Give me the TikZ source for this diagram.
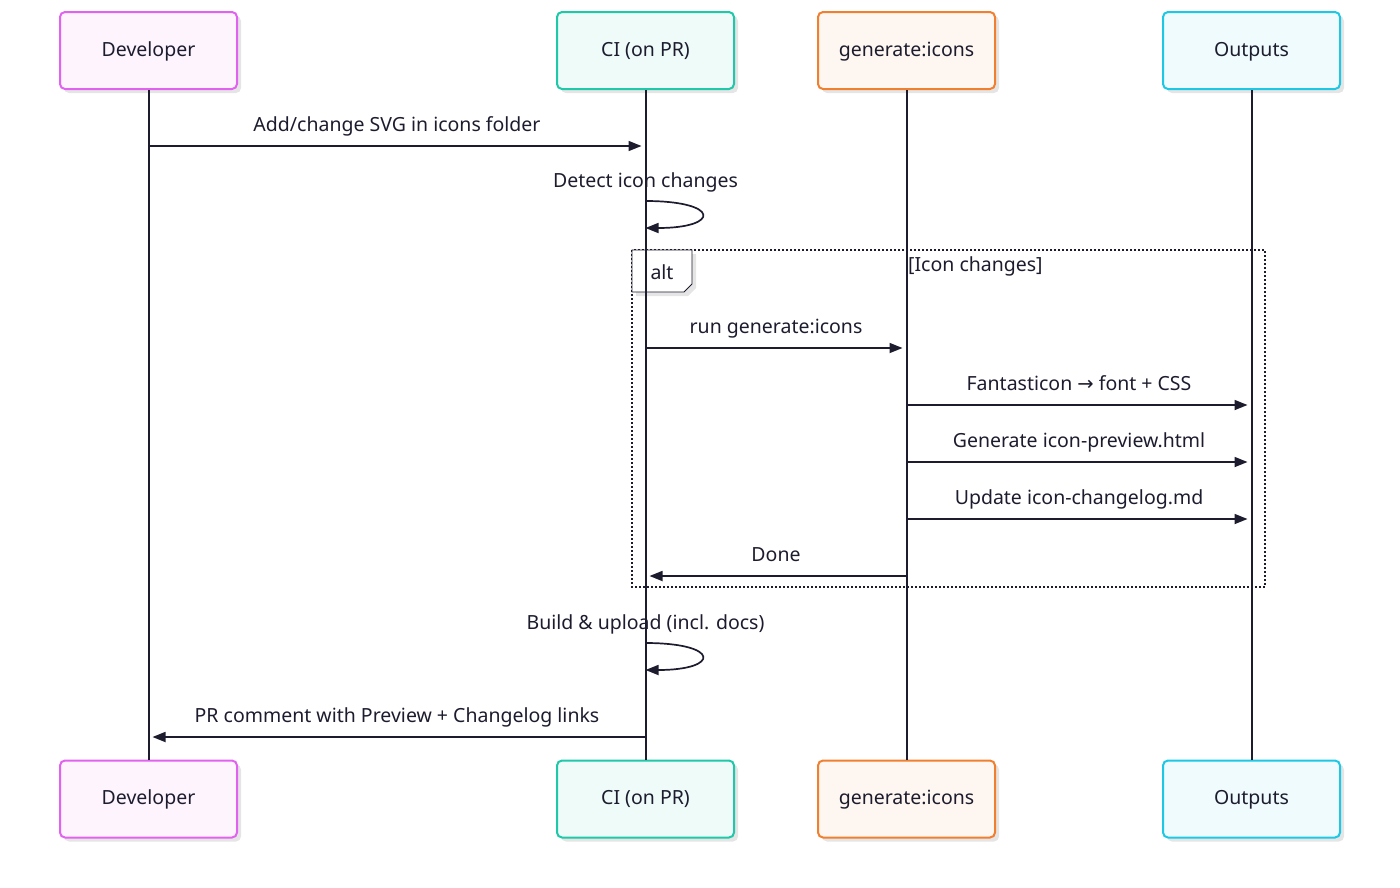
\documentclass[tikz,border=0pt]{standalone}
\usepackage{fontspec}
\setmainfont{Noto Sans}
\newfontfamily\arrowfont{DejaVu Sans}
\usepackage{tikz}
\usetikzlibrary{arrows.meta,positioning,calc,shadows}
\definecolor{ink}{RGB}{28,28,46}
\definecolor{devc}{RGB}{226,98,240}
\definecolor{cic}{RGB}{30,200,168}
\definecolor{genc}{RGB}{240,128,48}
\definecolor{outc}{RGB}{30,200,228}
\begin{document}
\begin{tikzpicture}[x=1pt,y=-1pt,>={Triangle[length=13pt,width=10pt]},
  actor/.style={draw=#1,fill=#1!7,line width=2pt,rounded corners=5pt,minimum width=177pt,minimum height=77pt,
    font=\fontsize{19.5}{23}\selectfont,text=ink,drop shadow={shadow xshift=4pt,shadow yshift=-4pt,fill=black!10,opacity=1}},
  msg/.style={ink,line width=1.7pt,->,shorten >=4pt},
  lbl/.style={font=\fontsize{19.5}{23}\selectfont,text=ink,inner sep=0pt}]
  \useasboundingbox (0,0) rectangle (1400,887);
  % alt frame
  \draw[ink,line width=2pt,dash pattern=on 2pt off 2pt] (632,250) rectangle (1265,587);
  \fill[black!10] (636,254) -- (696,254) -- (696,288) -- (688,296) -- (636,296) -- cycle;
  \draw[ink,fill=white,line width=0.8pt] (632,250) -- (692,250) -- (692,284) -- (684,292) -- (632,292) -- cycle;
  \node[lbl] (alttag) at (662,272) {alt};
  \node[lbl,anchor=west] (altcond) at (908,266) {[Icon changes]};
  % actors
  \foreach \n/\x/\c/\t in {dev/148.5/devc/Developer,ci/645.5/cic/CI (on PR),gen/906.5/genc/generate:icons,out/1251.5/outc/Outputs} {
    \node[actor=\c,text depth=3pt] (\n-top) at (\x,50.5) {\t};
    \node[actor=\c,text depth=3pt] (\n-bot) at (\x,799) {\t};
  }
  \foreach \n in {dev,ci,gen,out} \draw[ink,line width=2pt] (\n-top) -- (\n-bot);
  % message ends
  \coordinate (a1) at (dev-top.south |- 0,146);  \coordinate (b1) at (ci-top.south |- 0,146);
  \coordinate (l1) at (ci-top.south |- 0,201);   \coordinate (l1e) at (ci-top.south |- 0,228);
  \coordinate (a2) at (ci-top.south |- 0,348);   \coordinate (b2) at (gen-top.south |- 0,348);
  \coordinate (a3) at (gen-top.south |- 0,405);  \coordinate (b3) at (out-top.south |- 0,405);
  \coordinate (a4) at (gen-top.south |- 0,462);  \coordinate (b4) at (out-top.south |- 0,462);
  \coordinate (a5) at (gen-top.south |- 0,519);  \coordinate (b5) at (out-top.south |- 0,519);
  \coordinate (a6) at (gen-top.south |- 0,576);  \coordinate (b6) at (ci-top.south |- 0,576);
  \coordinate (l2) at (ci-top.south |- 0,643);   \coordinate (l2e) at (ci-top.south |- 0,670);
  \coordinate (a7) at (ci-top.south |- 0,737);   \coordinate (b7) at (dev-top.south |- 0,737);
  % messages
  \draw[msg] (a1) -- node[lbl,anchor=base,yshift=15pt] {Add/change SVG in icons folder} (b1);
  \draw[msg,shorten >=0pt] (l1) .. controls +(75,0) and +(75,0) .. (l1e);
  \node[lbl,anchor=base] at ($(l1)+(0,-14)$) {Detect icon changes};
  \draw[msg] (a2) -- node[lbl,anchor=base,yshift=15pt] {run generate:icons} (b2);
  \draw[msg] (a3) -- node[lbl,anchor=base,yshift=15pt] {Fantasticon {\arrowfont →} font + CSS} (b3);
  \draw[msg] (a4) -- node[lbl,anchor=base,yshift=15pt] {Generate icon-preview.html} (b4);
  \draw[msg] (a5) -- node[lbl,anchor=base,yshift=15pt] {Update icon-changelog.md} (b5);
  \draw[msg] (a6) -- node[lbl,anchor=base,yshift=15pt] {Done} (b6);
  \draw[msg,shorten >=0pt] (l2) .. controls +(75,0) and +(75,0) .. (l2e);
  \node[lbl,anchor=base] at ($(l2)+(0,-14)$) {Build \& upload (incl. docs)};
  \draw[msg] (a7) -- node[lbl,anchor=base,yshift=15pt] {PR comment with Preview + Changelog links} (b7);
\end{tikzpicture}
\end{document}
